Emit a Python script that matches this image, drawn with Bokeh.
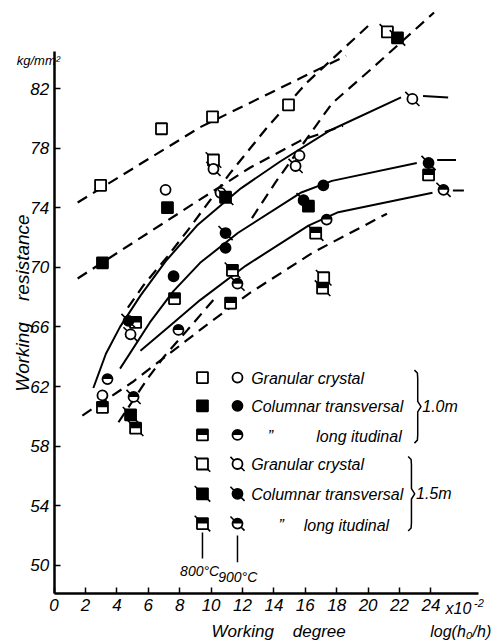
from math import pi
from bokeh.plotting import figure
from bokeh.models import Range1d, Label, ColumnDataSource, FixedTicker
from bokeh.transform import dodge
from bokeh.embed import file_html
from bokeh.resources import INLINE

FONT = "Liberation Sans"
NB = "\u00a0"

# ---------------- data (working degree x10^-2, kg/mm^2) ----------------
# 1.0 m ingot
gran10_800_x = [2.96, 6.84, 10.09, 14.93]
gran10_800_y = [75.5, 79.3, 80.1, 80.9]
gran10_900_x = [3.08, 7.10, 10.60, 15.63]
gran10_900_y = [61.4, 75.2, 75.0, 77.5]
col10_800_x = [3.08, 7.22, 16.20]
col10_800_y = [70.3, 74.0, 74.1]
col10_900_x = [7.61, 10.92, 17.15]
col10_900_y = [69.4, 71.3, 75.5]
lon10_800_x = [3.08, 5.19, 7.67, 11.24, 23.85]
lon10_800_y = [60.6, 66.3, 67.9, 67.6, 76.2]
lon10_900_x = [3.40, 7.92, 17.36]
lon10_900_y = [62.5, 65.8, 73.2]
# 1.5 m ingot
gran15_800_x = [10.15, 17.17, 21.23]
gran15_800_y = [77.2, 69.3, 85.8]
gran15_900_x = [4.87, 10.15, 15.38, 22.82]
gran15_900_y = [65.5, 76.6, 76.8, 81.3]
col15_800_x = [4.87, 10.92, 21.87]
col15_800_y = [60.1, 74.7, 85.4]
col15_900_x = [4.74, 10.92, 15.89, 23.85]
col15_900_y = [66.4, 72.3, 74.5, 77.0]
lon15_800_x = [5.19, 11.36, 16.66, 17.10]
lon15_800_y = [59.2, 69.8, 72.3, 68.6]
lon15_900_x = [5.06, 11.68, 24.80]
lon15_900_y = [61.3, 68.9, 75.2]

# ---------------- fitted curves ----------------
solid1_x = [2.5, 3.3, 4.2, 5.5, 7.1, 9.1, 11.9, 14.4, 17.6, 22.1]
solid1_y = [61.9, 64.2, 66.0, 68.1, 70.4, 72.8, 75.3, 77.1, 79.2, 81.4]
solid1_tail_x = [23.5, 25.1]
solid1_tail_y = [81.5, 81.4]
solid2_x = [4.2, 6.1, 7.6, 9.3, 11.7, 15.7, 17.7, 23.1]
solid2_y = [63.2, 66.3, 68.4, 70.3, 72.3, 75.0, 75.8, 77.0]
solid2_tail_x = [24.4, 25.6]
solid2_tail_y = [77.2, 77.2]
solid3_x = [5.5, 7.4, 9.3, 12.2, 16.2, 18.1, 24.1]
solid3_y = [64.4, 66.1, 67.8, 70.1, 72.8, 73.7, 75.0]
solid3_tail_x = [25.4, 26.1]
solid3_tail_y = [75.15, 75.15]

dashA_x = [1.5, 9.3, 15.7, 18.6]
dashA_y = [74.35, 79.4, 82.7, 84.2]
dashB_x = [1.5, 9.0, 12.5, 15.7, 18.4]
dashB_y = [69.25, 74.35, 76.7, 78.5, 79.5]
dashC_x = [4.7, 5.7, 7.2, 8.6, 11.2, 13.5, 16.1, 20.0]
dashC_y = [67.3, 68.8, 70.7, 72.6, 76.3, 79.3, 82.4, 86.2]
dashD_x = [12.6, 14.1, 17.7, 20.3, 24.2]
dashD_y = [73.3, 75.7, 81.0, 83.4, 87.1]
dashE_x = [1.8, 5.0, 9.8, 12.5, 16.5, 21.2]
dashE_y = [60.05, 62.3, 66.2, 68.3, 71.0, 73.6]
dashF_x = [4.1, 5.3, 6.0, 7.0, 8.5, 10.3]
dashF_y = [59.6, 61.5, 62.6, 64.0, 65.8, 68.0]

x_ticks = list(range(0, 25, 2))
y_ticks = list(range(50, 83, 4))

legend_rows = ["Granular crystal", "Columnar transversal", "long itudinal",
               "Granular crystal", "Columnar transversal", "long itudinal"]

PXY = 14.9  # px per kg/mm^2 (for half-fill offsets)
Y_BASE = 48.11

p = figure(width=494, height=644, x_range=Range1d(-3.414, 28.05), y_range=Range1d(44.685, 87.906),
           output_backend="svg", toolbar_location=None,
           min_border_left=0, min_border_right=0, min_border_top=0, min_border_bottom=0)
p.outline_line_color = None
p.grid.visible = False
p.background_fill_color = "white"

for ax in (p.xaxis, p.yaxis):
    ax.axis_line_width = 2.5
    ax.axis_line_color = "black"
    ax.major_tick_line_width = 1.5
    ax.major_tick_in = 6
    ax.major_tick_out = 0
    ax.minor_tick_line_color = None
    ax.major_label_text_font = FONT
    ax.major_label_text_font_style = "italic"
    ax.major_label_text_font_size = "17px"
    ax.major_label_text_color = "black"
p.xaxis.ticker = FixedTicker(ticks=x_ticks)
p.yaxis.ticker = FixedTicker(ticks=y_ticks)
p.xaxis.fixed_location = Y_BASE
p.yaxis.fixed_location = 0
p.xaxis.bounds = (0, 27.0)
p.yaxis.bounds = (Y_BASE, 84.5)
p.xaxis.major_label_standoff = 6
p.yaxis.major_label_standoff = 5

# curves
for xs, ys in [(solid1_x, solid1_y), (solid1_tail_x, solid1_tail_y),
               (solid2_x, solid2_y), (solid2_tail_x, solid2_tail_y),
               (solid3_x, solid3_y), (solid3_tail_x, solid3_tail_y)]:
    p.line(xs, ys, line_color="black", line_width=2)
for xs, ys in [(dashA_x, dashA_y), (dashB_x, dashB_y), (dashC_x, dashC_y),
               (dashD_x, dashD_y), (dashE_x, dashE_y), (dashF_x, dashF_y)]:
    p.line(xs, ys, line_color="black", line_width=2.2, line_dash="11 7")


def draw(xs, ys, shape, fill, slash):
    sz = 11 if shape == "square" else 10
    src = ColumnDataSource(dict(x=xs, y=ys))
    fc = "black" if fill == "full" else "white"
    if slash:
        p.scatter("x", "y", source=src, marker="dash", size=sz * 2.0, angle=-pi / 4,
                  line_color="black", line_width=1.6)
    p.scatter("x", "y", source=src, marker=shape, size=sz, fill_color=fc,
              line_color="black", line_width=1.8)
    if fill == "half":
        if shape == "square":
            p.rect(x="x", y=dodge("y", sz / 4 / PXY), width=sz, height=sz / 2,
                   width_units="screen", height_units="screen",
                   fill_color="black", line_color=None, source=src)
        else:
            p.wedge(x="x", y="y", radius=sz / 2, radius_units="screen",
                    start_angle=0, end_angle=pi, fill_color="black",
                    line_color=None, source=src)


series = [
    (gran10_800_x, gran10_800_y, "square", "open", False),
    (gran10_900_x, gran10_900_y, "circle", "open", False),
    (col10_800_x, col10_800_y, "square", "full", False),
    (col10_900_x, col10_900_y, "circle", "full", False),
    (lon10_800_x, lon10_800_y, "square", "half", False),
    (lon10_900_x, lon10_900_y, "circle", "half", False),
    (gran15_800_x, gran15_800_y, "square", "open", True),
    (gran15_900_x, gran15_900_y, "circle", "open", True),
    (col15_800_x, col15_800_y, "square", "full", True),
    (col15_900_x, col15_900_y, "circle", "full", True),
    (lon15_800_x, lon15_800_y, "square", "half", True),
    (lon15_900_x, lon15_900_y, "circle", "half", True),
]
for xs, ys, shape, fill, slash in series:
    draw(xs, ys, shape, fill, slash)

# ---------------- legend ----------------
row_y = [62.6, 60.7, 58.75, 56.8, 54.8, 52.8]
sq_x, ci_x = 9.45, 11.68
styles = [("open", False), ("full", False), ("half", False),
          ("open", True), ("full", True), ("half", True)]
for (fill, slash), yy in zip(styles, row_y):
    draw([sq_x], [yy], "square", fill, slash)
    draw([ci_x], [yy], "circle", fill, slash)


def txt(x, y, s, size="16px", align="left", angle=0, baseline="middle"):
    p.add_layout(Label(x=x, y=y, text=s, text_font=FONT, text_font_style="italic",
                       text_font_size=size, text_align=align, text_baseline=baseline,
                       angle=angle, text_color="black"))


for i, (s, yy) in enumerate(zip(legend_rows, row_y)):
    if "itudinal" in s:
        qx = 13.6 if i == 2 else 14.3
        txt(qx, yy - 0.1, "\u201d")
        txt(16.7 if i == 2 else 15.9, yy - 0.1, s)
    else:
        txt(12.55, yy - 0.05, s)


def brace(x, ytop, ybot, w=0.42):
    mid = (ytop + ybot) / 2
    bx = [x, x + w * 0.45, x + w * 0.5, x + w * 0.5, x + w, x + w * 0.5, x + w * 0.5, x + w * 0.45, x]
    by = [ytop, ytop - 0.2, ytop - 0.55, mid + 0.35, mid, mid - 0.35, ybot + 0.55, ybot + 0.2, ybot]
    p.line(bx, by, line_color="black", line_width=1.5)


brace(22.95, 63.1, 58.2)
brace(22.55, 57.3, 52.3)
txt(23.45, 60.65, "1.0m")
txt(23.05, 54.8, "1.5m")

p.segment(x0=[sq_x, ci_x], y0=[52.2, 52.0], x1=[sq_x, ci_x], y1=[50.45, 50.2],
          line_color="black", line_width=1.5)
txt(9.27, 49.6, "800\u00b0C", size="14px", align="center")
txt(11.7, 49.2, "900\u00b0C", size="14px", align="center")

# axis titles
txt(-2.0, 67.6, "Working" + NB * 4 + "resistance", size="19px", align="center", angle=pi / 2)
txt(-1.0, 83.9, "kg/mm\u00b2", size="13px", align="center")
txt(14.3, 45.55, "Working" + NB * 4 + "degree", size="17px", align="center")
txt(25.75, 47.1, "x10", size="16px", align="center")
txt(26.75, 47.45, "-2", size="11px", align="left")
txt(25.9, 45.55, "log(h\u2080/h)", size="16px", align="center")

open("out.html", "w").write(file_html(p, INLINE))
